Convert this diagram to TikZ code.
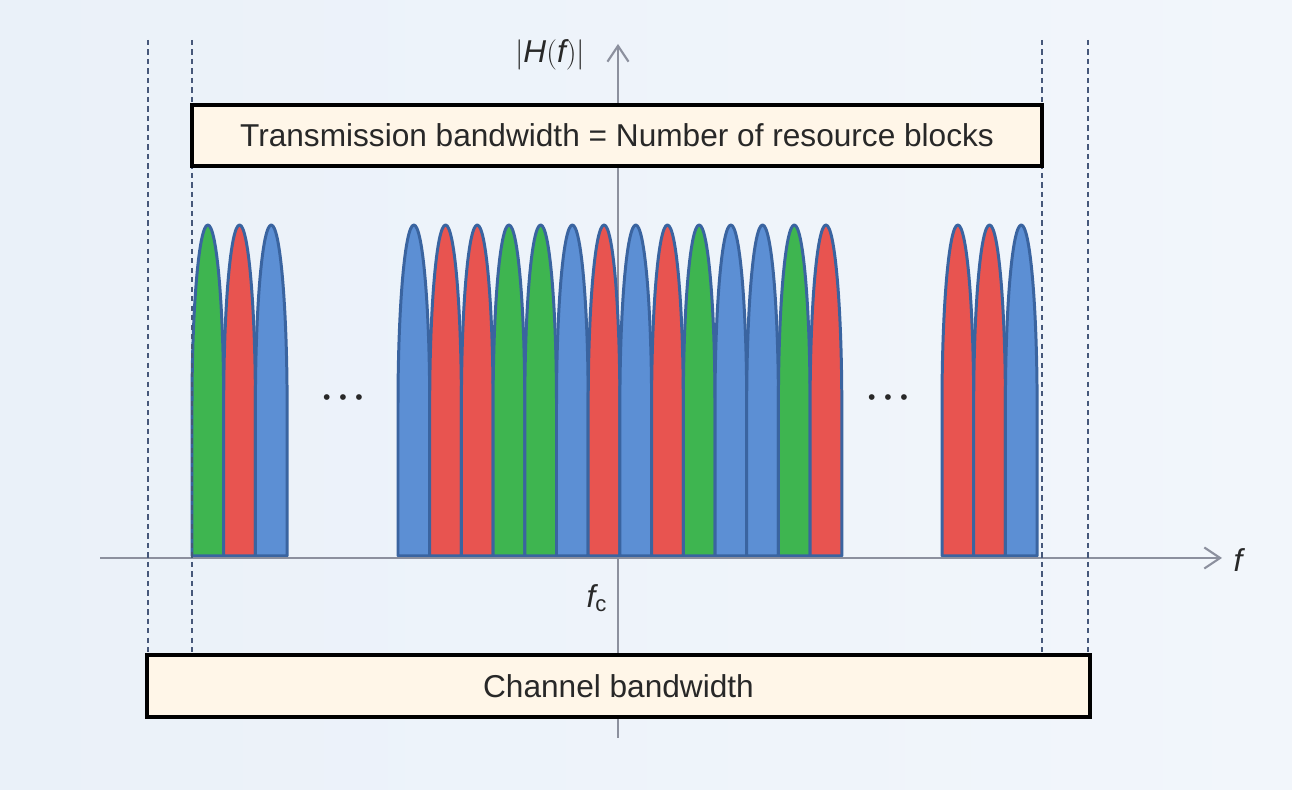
\documentclass[tikz,border=0pt]{standalone}
\usepackage{fontspec}
\setmainfont{Liberation Sans}
\usetikzlibrary{arrows.meta}
\definecolor{bgA}{RGB}{234,241,249}
\definecolor{bgB}{RGB}{242,246,251}
\definecolor{boxfill}{RGB}{255,246,232}
\definecolor{axisgrey}{RGB}{140,144,158}
\definecolor{dashcol}{RGB}{70,88,122}
\definecolor{txt}{RGB}{40,40,40}
\definecolor{barG}{RGB}{62,181,80}
\definecolor{barR}{RGB}{232,84,80}
\definecolor{barB}{RGB}{92,143,212}
\definecolor{barline}{RGB}{58,100,160}
\tikzset{
  every node/.style={text=txt},
  labelbox/.style={draw=black, line width=2pt, fill=boxfill, inner sep=0pt, anchor=center},
  bwline/.style={dashcol, line width=0.8pt, dash pattern=on 3pt off 2.4pt},
  axisline/.style={axisgrey, line width=1.2pt, -{Straight Barb[length=9pt,width=12pt,line width=1.2pt]}},
  subband/.style={draw=barline, line width=1.7pt, line join=round},
  bigtext/.style={font=\fontsize{18}{21}\selectfont},
}
\newcommand{\subbar}[2]{%
  \draw[subband, fill=#2] (#1,234) -- (#1,385)
    arc[start angle=180, end angle=0, x radius=15.85, y radius=180]
    -- (#1+31.7,234) -- cycle;}
\newcommand{\threedots}{{\fontsize{12}{12}\selectfont\textbullet\hspace{5pt}\textbullet\hspace{5pt}\textbullet}}
\begin{document}
\begin{tikzpicture}[x=0.02cm, y=0.02cm]
  % background
  \shade[left color=bgA, right color=bgB] (0,0) rectangle (1292,790);
  \useasboundingbox (0,0) rectangle (1292,790);

  % axes
  \coordinate (xs) at (100,232);
  \coordinate (xe) at (1222,232);
  \coordinate (ys) at (618,52);
  \coordinate (ye) at (618,746);
  \draw[axisline] (ys) -- (ye);

  % sub-bands
  \foreach \x/\c in {192/barG, 223.7/barR, 255.4/barB}{\subbar{\x}{\c}}
  \foreach \c [count=\i from 0] in {barB,barR,barR,barG,barG,barB,barR,barB,barR,barG,barB,barB,barG,barR}{%
    \subbar{398+31.7*\i}{\c}}
  \foreach \c [count=\i from 0] in {barR,barR,barB}{\subbar{942+31.7*\i}{\c}}

  \draw[axisline] (xs) -- (xe);

  % dashed bandwidth limits
  \foreach \x/\n in {148/a,192/b,1042/c,1088/d}{
    \coordinate (t\n) at (\x,750);
    \coordinate (b\n) at (\x,135);
    \draw[bwline] (t\n) -- (b\n);
  }

  % boxes
  \node[labelbox, minimum width=850*0.02cm, minimum height=61*0.02cm, bigtext]
    (tx) at (617,654.5) {Transmission bandwidth = Number of resource blocks};
  \node[labelbox, minimum width=943*0.02cm, minimum height=62*0.02cm, bigtext]
    (ch) at (618.5,104) {Channel bandwidth};

  % labels
  \node[bigtext] (hf) at (550,735) {$|\mathit{H}(\mathit{f})|$};
  \node[bigtext] (fc) at (597,192) {$\mathit{f}_{\mathrm{c}}$};
  \node[bigtext] (fl) at (1238,230) {$\mathit{f}$};
  \node (d1) at (343,390) {\threedots};
  \node (d2) at (888,390) {\threedots};
\end{tikzpicture}
\end{document}
